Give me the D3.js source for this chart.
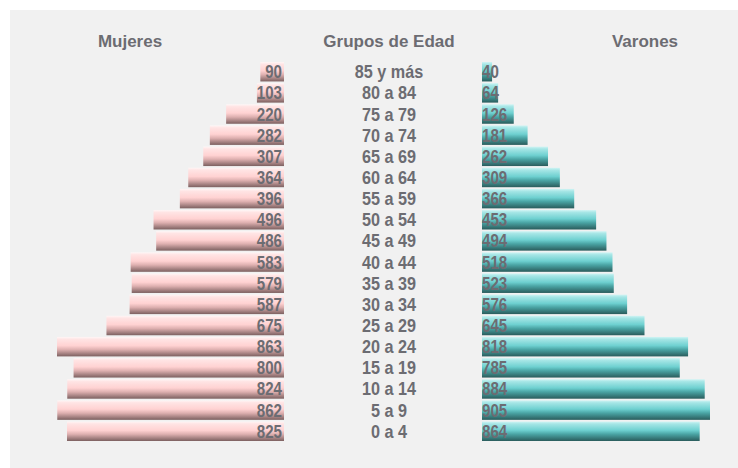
<!DOCTYPE html>
<html>
<head>
<meta charset="utf-8">
<script src="https://cdn.jsdelivr.net/npm/d3@7"></script>
<style>
  body { margin: 0; background: #fff; }
  svg text { font-family: "Liberation Sans", Arial, sans-serif; font-weight: bold; fill: #6c6c72; }
  .head { font-size: 17px; }
  .num { font-size: 18px; }
  .grp { font-size: 18px; }
</style>
</head>
<body>
<div id="chart"></div>
<script>
var grupos = ["85 y más", "80 a 84", "75 a 79", "70 a 74", "65 a 69", "60 a 64", "55 a 59", "50 a 54", "45 a 49",
              "40 a 44", "35 a 39", "30 a 34", "25 a 29", "20 a 24", "15 a 19", "10 a 14", "5 a 9", "0 a 4"];
var mujeres = [90, 103, 220, 282, 307, 364, 396, 496, 486, 583, 579, 587, 675, 863, 800, 824, 862, 825];
var varones = [40, 64, 126, 181, 262, 309, 366, 453, 494, 518, 523, 576, 645, 818, 785, 884, 905, 864];
var titulos = ["Mujeres", "Grupos de Edad", "Varones"];

var width = 738, height = 468;
var leftEnd = 284, rightStart = 482, barMax = 228;

var svg = d3.select("#chart").append("svg")
    .attr("width", width)
    .attr("height", height);

var defs = svg.append("defs");

function grad(id, stops) {
    var g = defs.append("linearGradient")
        .attr("id", id)
        .attr("x1", 0).attr("y1", 0).attr("x2", 0).attr("y2", 1);
    stops.forEach(function(s) {
        g.append("stop").attr("offset", s[0]).attr("stop-color", s[1]);
    });
}
grad("gMuj", [[0, "#fff6f6"], [0.12, "#ffe4e4"], [0.45, "#ffd2d2"], [0.65, "#deb0b0"], [1, "#7c6060"]]);
grad("gVar", [[0, "#d0f4f4"], [0.12, "#a6e6e6"], [0.45, "#6ed0d0"], [0.65, "#4aa4a4"], [1, "#2a5c5c"]]);

// panel
svg.append("rect")
    .attr("x", 10).attr("y", 10)
    .attr("width", width - 10).attr("height", height - 10)
    .attr("fill", "#f1f1f1");

var y = d3.scaleBand()
    .domain(grupos)
    .range([62, 441])
    .paddingInner(0.08);

var xMuj = d3.scaleLinear().domain([0, d3.max(mujeres)]).range([0, barMax - 1]);
var xVar = d3.scaleLinear().domain([0, d3.max(varones)]).range([0, barMax]);

function rowY(i) { return y(grupos[i]) + y.bandwidth() / 2 + 6.5; }

// headers
svg.selectAll(".head")
    .data(titulos)
    .enter().append("text")
    .attr("class", "head")
    .attr("x", function(d, i) { return [130, 389, 645][i]; })
    .attr("y", 47)
    .attr("text-anchor", "middle")
    .text(function(d) { return d; });

// mujeres
svg.selectAll(".barM")
    .data(mujeres)
    .enter().append("rect")
    .attr("class", "barM")
    .attr("x", function(d) { return leftEnd - xMuj(d); })
    .attr("y", function(d, i) { return y(grupos[i]); })
    .attr("width", function(d) { return xMuj(d); })
    .attr("height", y.bandwidth())
    .attr("fill", "url(#gMuj)");

svg.selectAll(".numM")
    .data(mujeres)
    .enter().append("text")
    .attr("class", "num")
    .attr("transform", function(d, i) { return "translate(" + (leftEnd - 2) + "," + rowY(i) + ") scale(0.84,1)"; })
    .attr("text-anchor", "end")
    .text(function(d) { return d; });

// varones
svg.selectAll(".barV")
    .data(varones)
    .enter().append("rect")
    .attr("class", "barV")
    .attr("x", rightStart)
    .attr("y", function(d, i) { return y(grupos[i]); })
    .attr("width", function(d) { return xVar(d); })
    .attr("height", y.bandwidth())
    .attr("fill", "url(#gVar)");

svg.selectAll(".numV")
    .data(varones)
    .enter().append("text")
    .attr("class", "num")
    .attr("transform", function(d, i) { return "translate(" + rightStart + "," + rowY(i) + ") scale(0.84,1)"; })
    .text(function(d) { return d; });

// grupos
svg.selectAll(".grp")
    .data(grupos)
    .enter().append("text")
    .attr("class", "grp")
    .attr("transform", function(d, i) { return "translate(389," + rowY(i) + ") scale(0.9,1)"; })
    .attr("text-anchor", "middle")
    .text(function(d) { return d; });
</script>
</body>
</html>
